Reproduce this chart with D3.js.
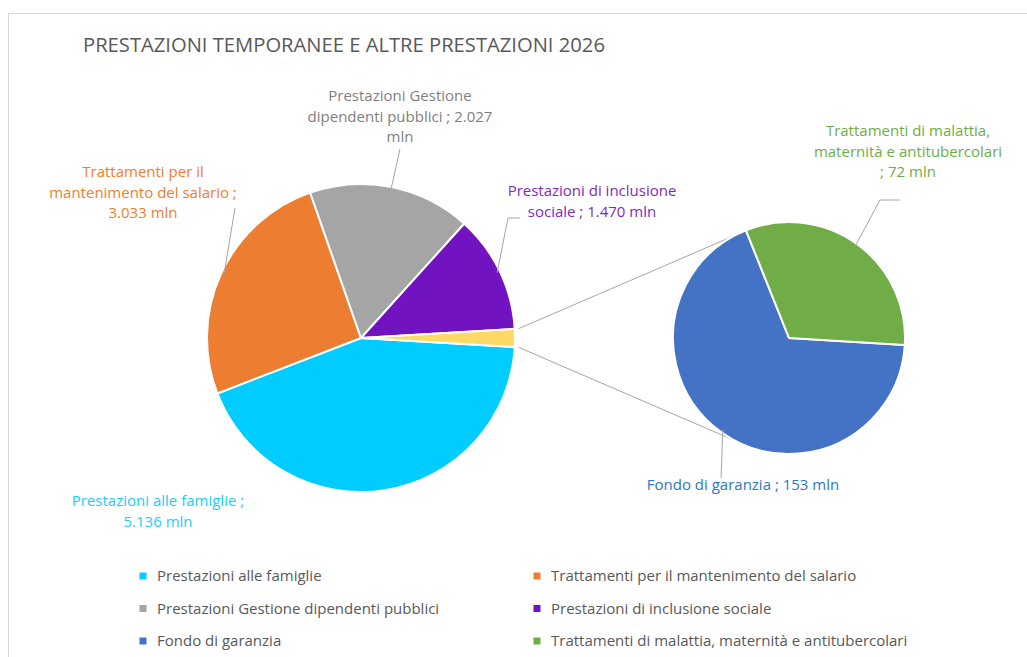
<!DOCTYPE html>
<html>
<head>
<meta charset="utf-8">
<script src="https://cdn.jsdelivr.net/npm/d3@7"></script>
<style>
  body { margin: 0; background: #fff; }
  svg { display: block; font-family: "Open Sans", "Liberation Sans", Arial, sans-serif; }
</style>
</head>
<body>
<div id="chart"></div>
<script>
var title = "PRESTAZIONI TEMPORANEE E ALTRE PRESTAZIONI 2026";

// main pie
var mainCategories = ["Prestazioni alle famiglie", "Trattamenti per il mantenimento del salario",
  "Prestazioni Gestione dipendenti pubblici", "Prestazioni di inclusione sociale"];
var mainValues = [5136, 3033, 2027, 1470];
var mainColors = ["#00CCFF", "#ED7D31", "#A5A5A5", "#7113C1"];
var mainLabelColors = ["#1ACDFF", "#ED7D31", "#7F7F7F", "#7E2BBD"];

// secondary pie ("altro")
var subCategories = ["Fondo di garanzia", "Trattamenti di malattia, maternità e antitubercolari"];
var subValues = [153, 72];
var subColors = ["#4472C4", "#70AD47"];
var subLabelColors = ["#2B78C9", "#70AD47"];
var otherColor = "#FFD966";

var width = 1027, height = 657;
var fmt = d3.formatLocale({decimal: ",", thousands: ".", grouping: [3], currency: ["", "€"]}).format(",d");

var svg = d3.select("#chart").append("svg")
  .attr("width", width)
  .attr("height", height);

svg.append("rect")
  .attr("x", 8.5).attr("y", 13.5)
  .attr("width", 1040).attr("height", 700)
  .attr("fill", "none").attr("stroke", "#D9D9D9");

svg.append("text")
  .attr("x", 83).attr("y", 52)
  .attr("fill", "#595959")
  .style("font-size", "20.2px")
  .text(title);

var otherTotal = d3.sum(subValues);
var mainData = mainCategories.map((c, i) => ({name: c, value: mainValues[i], color: mainColors[i], label: mainLabelColors[i]}));
mainData.push({name: "Altro", value: otherTotal, color: otherColor});
var mainTotal = d3.sum(mainData, d => d.value);
var start = Math.PI / 2 + otherTotal / mainTotal * Math.PI;

var cx1 = 361, cy1 = 338, r1 = 154;
var cx2 = 789, cy2 = 338, r2 = 116;

var pieMain = d3.pie().sort(null).value(d => d.value).startAngle(start).endAngle(start + 2 * Math.PI);
var arcMain = d3.arc().innerRadius(0).outerRadius(r1);
var arcsMain = pieMain(mainData);

var subData = subCategories.map((c, i) => ({name: c, value: subValues[i], color: subColors[i], label: subLabelColors[i]}));
var pieSub = d3.pie().sort(null).value(d => d.value).startAngle(start).endAngle(start + 2 * Math.PI);
var arcSub = d3.arc().innerRadius(0).outerRadius(r2);
var arcsSub = pieSub(subData);

function pt(cx, cy, r, a) { return [cx + r * Math.sin(a), cy - r * Math.cos(a)]; }

// connector lines between "altro" slice and secondary pie
var other = arcsMain[arcsMain.length - 1];
var conn = [[pt(cx1, cy1, r1 + 4, other.startAngle), pt(cx2, cy2, r2, -28 * Math.PI / 180)],
            [pt(cx1, cy1, r1 + 4, other.endAngle), pt(cx2, cy2, r2, 208 * Math.PI / 180)]];
svg.append("g").selectAll("line").data(conn).join("line")
  .attr("x1", d => d[0][0]).attr("y1", d => d[0][1])
  .attr("x2", d => d[1][0]).attr("y2", d => d[1][1])
  .attr("stroke", "#A6A6A6").attr("stroke-width", 1);

svg.append("g").attr("transform", "translate(" + cx1 + "," + cy1 + ")")
  .selectAll("path").data(arcsMain).join("path")
  .attr("d", arcMain)
  .attr("fill", d => d.data.color)
  .attr("stroke", "#fff").attr("stroke-width", 2).attr("stroke-linejoin", "round");

svg.append("g").attr("transform", "translate(" + cx2 + "," + cy2 + ")")
  .selectAll("path").data(arcsSub).join("path")
  .attr("d", arcSub)
  .attr("fill", d => d.data.color)
  .attr("stroke", "#fff").attr("stroke-width", 2).attr("stroke-linejoin", "round");

// data labels: words per line, centre x, first baseline, leader line (from label side)
var labelLayout = [
  {arc: arcsMain[0], cx: cx1, cy: cy1, r: r1, breaks: [4, 2], x: 158, y: 506, leader: null},
  {arc: arcsMain[1], cx: cx1, cy: cy1, r: r1, breaks: [3, 4, 2], x: 143, y: 177, leader: [[235, 208]]},
  {arc: arcsMain[2], cx: cx1, cy: cy1, r: r1, breaks: [2, 4, 1], x: 400, y: 101, leader: [[400, 149]]},
  {arc: arcsMain[3], cx: cx1, cy: cy1, r: r1, breaks: [3, 4], x: 592, y: 196, leader: [[520, 218], [508, 218]]},
  {arc: arcsSub[0], cx: cx2, cy: cy2, r: r2, breaks: [6], x: 743, y: 490, leader: [[721, 478]]},
  {arc: arcsSub[1], cx: cx2, cy: cy2, r: r2, breaks: [3, 3, 3], x: 908, y: 136, leader: [[900, 200], [880, 200]]}
];

labelLayout.forEach(function(l) {
  var d = l.arc.data;
  var words = (d.name + " ; " + fmt(d.value) + " mln").split(" ");
  var lines = [], k = 0;
  l.breaks.forEach(function(n) { lines.push(words.slice(k, k + n).join(" ")); k += n; });
  var t = svg.append("text")
    .attr("text-anchor", "middle")
    .attr("fill", d.label)
    .style("font-size", "15px");
  lines.forEach(function(s, i) {
    t.append("tspan").attr("x", l.x).attr("y", l.y + i * 20.5).text(s);
  });
  if (l.leader) {
    var mid = (l.arc.startAngle + l.arc.endAngle) / 2;
    var pts = l.leader.concat([pt(l.cx, l.cy, l.r - 3, mid)]);
    svg.append("path")
      .attr("d", d3.line()(pts))
      .attr("fill", "none").attr("stroke", "#A6A6A6").attr("stroke-width", 1);
  }
});

// legend
var legendItems = mainData.slice(0, 4).concat(subData);
var legend = svg.append("g").selectAll("g").data(legendItems).join("g")
  .attr("transform", (d, i) => "translate(" + (i % 2 ? 537 : 143) + "," + (576 + Math.floor(i / 2) * 32.5) + ")");
legend.append("rect")
  .attr("x", -3.5).attr("y", -3.5).attr("width", 7).attr("height", 7)
  .attr("fill", d => d.color);
legend.append("text")
  .attr("x", 14).attr("y", 5)
  .attr("fill", "#595959")
  .style("font-size", "15px")
  .text(d => d.name);
</script>
</body>
</html>
